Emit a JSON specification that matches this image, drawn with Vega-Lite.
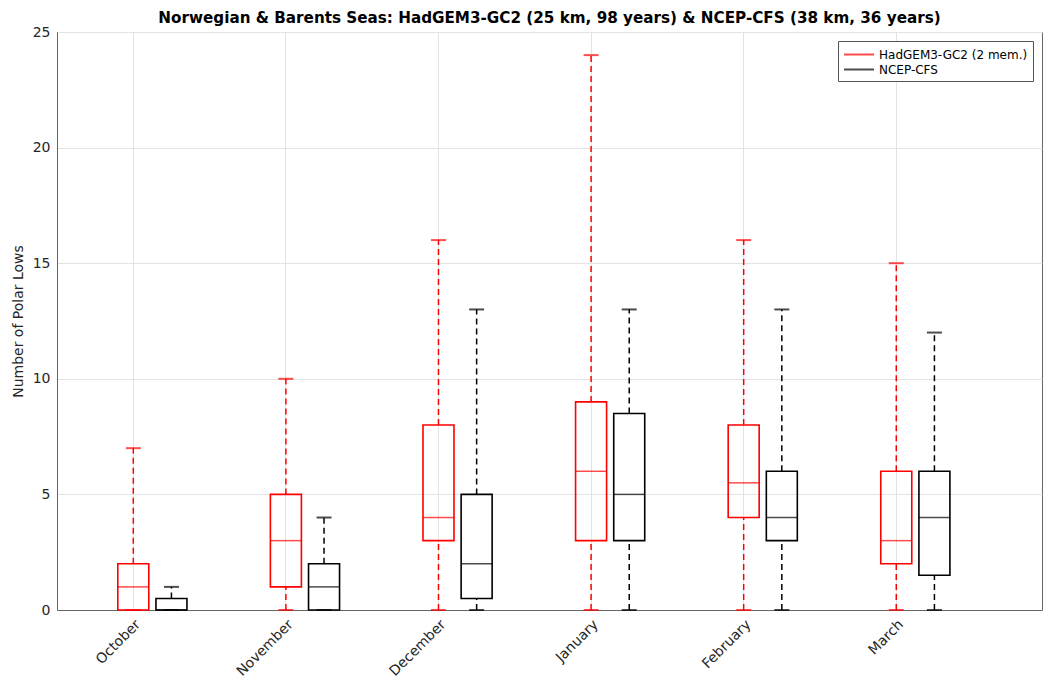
{
  "$schema": "https://vega.github.io/schema/vega-lite/v6.json",
  "autosize": "none",
  "padding": {"left": 57, "top": 32, "right": 1, "bottom": 70},
  "width": 985,
  "height": 578,
  "background": "white",
  "title": {
    "text": "Norwegian & Barents Seas: HadGEM3-GC2 (25 km, 98 years) & NCEP-CFS (38 km, 36 years)",
    "font": "DejaVu Sans",
    "fontSize": 15.2,
    "fontWeight": "bold",
    "color": "#000000",
    "anchor": "middle",
    "offset": -1
  },
  "config": {
    "view": {"stroke": "#666666", "strokeWidth": 1},
    "axis": {
      "labelFont": "DejaVu Sans",
      "titleFont": "DejaVu Sans",
      "labelColor": "#262626",
      "titleColor": "#262626",
      "domainColor": "#666666",
      "gridColor": "#e3e3e3",
      "gridWidth": 1,
      "ticks": false
    },
    "legend": {
      "labelFont": "DejaVu Sans"
    }
  },
  "data": {
    "values": [
      {"month": "October", "model": "HadGEM3-GC2 (2 mem.)", "min": 0, "q1": 0, "median": 1, "q3": 2, "max": 7},
      {"month": "October", "model": "NCEP-CFS", "min": 0, "q1": 0, "median": 0, "q3": 0.5, "max": 1},
      {"month": "November", "model": "HadGEM3-GC2 (2 mem.)", "min": 0, "q1": 1, "median": 3, "q3": 5, "max": 10},
      {"month": "November", "model": "NCEP-CFS", "min": 0, "q1": 0, "median": 1, "q3": 2, "max": 4},
      {"month": "December", "model": "HadGEM3-GC2 (2 mem.)", "min": 0, "q1": 3, "median": 4, "q3": 8, "max": 16},
      {"month": "December", "model": "NCEP-CFS", "min": 0, "q1": 0.5, "median": 2, "q3": 5, "max": 13},
      {"month": "January", "model": "HadGEM3-GC2 (2 mem.)", "min": 0, "q1": 3, "median": 6, "q3": 9, "max": 24},
      {"month": "January", "model": "NCEP-CFS", "min": 0, "q1": 3, "median": 5, "q3": 8.5, "max": 13},
      {"month": "February", "model": "HadGEM3-GC2 (2 mem.)", "min": 0, "q1": 4, "median": 5.5, "q3": 8, "max": 16},
      {"month": "February", "model": "NCEP-CFS", "min": 0, "q1": 3, "median": 4, "q3": 6, "max": 13},
      {"month": "March", "model": "HadGEM3-GC2 (2 mem.)", "min": 0, "q1": 2, "median": 3, "q3": 6, "max": 15},
      {"month": "March", "model": "NCEP-CFS", "min": 0, "q1": 1.5, "median": 4, "q3": 6, "max": 12}
    ]
  },
  "encoding": {
    "x": {
      "field": "month",
      "type": "nominal",
      "sort": ["October", "November", "December", "January", "February", "March"],
      "scale": {"paddingInner": 0, "paddingOuter": 0.2275, "align": 0, "round": false},
      "axis": {
        "title": null,
        "labelAngle": -45,
        "labelAlign": "right",
        "labelBaseline": "middle",
        "labelFontSize": 14,
        "labelPadding": 12,
        "labelOffset": 5,
        "grid": true,
        "bandPosition": 0.5
      }
    },
    "xOffset": {
      "field": "model",
      "type": "nominal",
      "scale": {"domain": ["HadGEM3-GC2 (2 mem.)", "NCEP-CFS"], "paddingInner": 0, "paddingOuter": 1, "align": 0.75, "round": false}
    },
    "color": {
      "field": "model",
      "type": "nominal",
      "scale": {"domain": ["HadGEM3-GC2 (2 mem.)", "NCEP-CFS"], "range": ["#ff0000", "#000000"]},
      "legend": {
        "title": null,
        "orient": "top-right",
        "offset": 9,
        "symbolType": "M-1,0H3",
        "symbolSize": 225,
        "symbolStrokeWidth": 2,
        "labelOffset": 19,
        "labelFontSize": 12,
        "labelColor": "#000000",
        "strokeColor": "#555555",
        "fillColor": "white",
        "padding": 5,
        "rowPadding": 0
      }
    }
  },
  "layer": [
    {
      "mark": {"type": "rule", "strokeDash": [6, 4], "strokeWidth": 1.5},
      "encoding": {
        "y": {
          "field": "q3",
          "type": "quantitative",
          "scale": {"domain": [0, 25], "nice": false},
          "axis": {
            "title": "Number of Polar Lows",
            "titleFontSize": 14,
            "titleFontWeight": "normal",
            "titlePadding": 7,
            "labelFontSize": 14,
            "labelPadding": 7,
            "values": [0, 5, 10, 15, 20, 25],
            "grid": true
          }
        },
        "y2": {"field": "max"}
      }
    },
    {
      "mark": {"type": "rule", "strokeDash": [6, 4], "strokeWidth": 1.5},
      "encoding": {
        "y": {"field": "min", "type": "quantitative"},
        "y2": {"field": "q1"}
      }
    },
    {
      "mark": {"type": "tick", "size": 15, "thickness": 2},
      "encoding": {
        "y": {"field": "max", "type": "quantitative"}
      }
    },
    {
      "mark": {"type": "tick", "size": 15, "thickness": 2},
      "encoding": {
        "y": {"field": "min", "type": "quantitative"}
      }
    },
    {
      "mark": {"type": "bar", "size": 31, "filled": false, "fill": "transparent", "strokeWidth": 1.6},
      "encoding": {
        "y": {"field": "q1", "type": "quantitative"},
        "y2": {"field": "q3"}
      }
    },
    {
      "mark": {"type": "tick", "size": 31, "thickness": 1.5},
      "encoding": {
        "y": {"field": "median", "type": "quantitative"}
      }
    }
  ]
}
